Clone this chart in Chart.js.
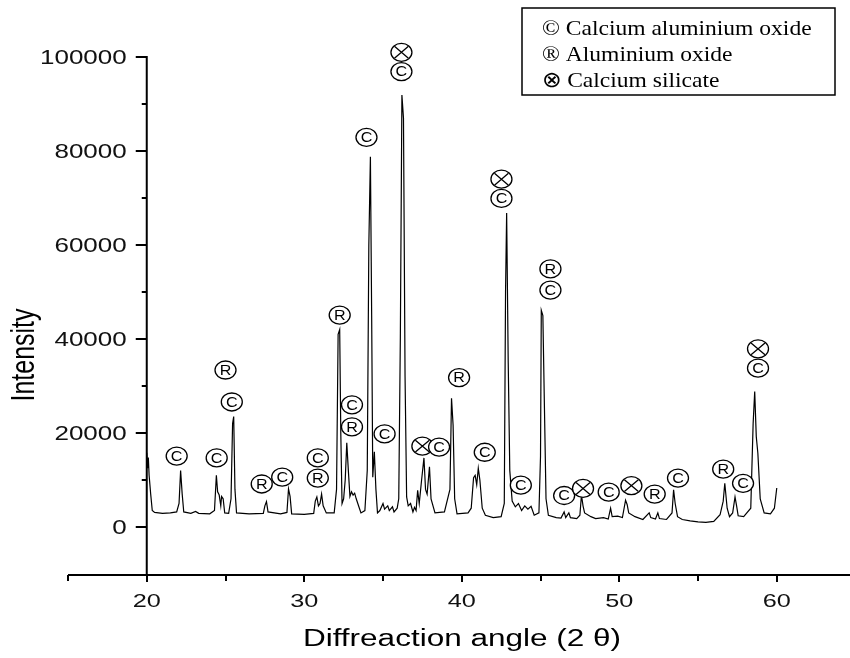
<!DOCTYPE html>
<html lang="en">

<head>
    <meta charset="UTF-8">
    <title>XRD pattern</title>
    <script src="https://cdn.jsdelivr.net/npm/chart.js"></script>
    <style>
        body { margin: 0; background: #fff; overflow: hidden; }
    </style>
</head>

<body>
    <canvas id="xrdChart" width="850" height="658"></canvas>
    <script>
        // diffraction angle (2 theta) and measured intensity
        const angles = [
            20.00, 20.05, 20.10, 20.15, 20.25, 20.35, 20.5, 21.0, 21.5, 21.9, 22.05, 22.15, 22.25, 22.35,
            22.8, 23.1, 23.3, 24.0, 24.3, 24.42, 24.5, 24.6, 24.7, 24.75, 24.85, 24.95, 25.2, 25.35,
            25.45, 25.52, 25.6, 25.7, 26.5, 27.4, 27.5, 27.6, 27.7, 28.5, 28.9, 29.0, 29.1, 29.2,
            30.0, 30.6, 30.7, 30.8, 30.9, 31.0, 31.1, 31.2, 31.4, 31.9, 32.05, 32.15, 32.25, 32.32,
            32.4, 32.5, 32.6, 32.7, 32.8, 32.9, 33.0, 33.1, 33.2, 33.3, 33.5, 33.6, 33.85, 34.0,
            34.1, 34.2, 34.28, 34.35, 34.45, 34.55, 34.65, 34.8, 35.0, 35.1, 35.3, 35.4, 35.6, 35.7,
            35.9, 36.0, 36.1, 36.2, 36.3, 36.4, 36.5, 36.6, 36.75, 36.9, 37.0, 37.1, 37.2, 37.3,
            37.45, 37.6, 37.7, 37.8, 37.95, 38.05, 38.3, 38.9, 39.25, 39.35, 39.45, 39.55, 39.7, 40.4,
            40.6, 40.75, 40.85, 40.95, 41.05, 41.15, 41.3, 41.5, 42.0, 42.5, 42.7, 42.78, 42.85, 42.95,
            43.05, 43.2, 43.4, 43.6, 43.8, 44.0, 44.2, 44.4, 44.6, 44.9, 45.0, 45.05, 45.15, 45.25,
            45.35, 45.5, 46.0, 46.3, 46.5, 46.6, 46.8, 46.9, 47.3, 47.5, 47.6, 47.7, 47.8, 48.2,
            48.5, 49.0, 49.3, 49.45, 49.55, 49.9, 50.2, 50.4, 50.5, 50.6, 51.0, 51.5, 51.9, 52.0,
            52.3, 52.45, 52.55, 53.0, 53.35, 53.45, 53.55, 53.7, 54.0, 54.5, 55.0, 55.5, 56.0, 56.4,
            56.6, 56.7, 56.85, 57.0, 57.2, 57.35, 57.45, 57.55, 57.9, 58.35, 58.5, 58.6, 58.7, 58.8,
            58.95, 59.2, 59.6, 59.85, 60.0
        ];
        const counts = [
            15800, 12500, 14800, 11000, 7000, 3500, 3100, 2900, 3000, 3200, 5000, 12000, 7000, 3200,
            2900, 3300, 2900, 2800, 3500, 11000, 7500, 6800, 4500, 6500, 6000, 3000, 2900, 6000,
            22000, 23500, 8000, 3000, 2800, 2900, 4500, 5400, 3200, 2800, 3100, 8100, 6500, 2800,
            2700, 2900, 5500, 6400, 4500, 5000, 7000, 4500, 3000, 3000, 8000, 41000, 42000, 20000,
            5000, 6000, 10000, 17900, 12000, 6500, 7500, 6800, 7200, 6000, 4000, 3000, 3500, 12000,
            60000, 78800, 45000, 10600, 16000, 8000, 3000, 3500, 5000, 3800, 4500, 3500, 4300, 3200,
            4000, 6000, 40000, 91900, 87000, 32000, 6400, 4500, 5000, 3200, 4200, 3500, 7800, 5000,
            10000, 14700, 8000, 7000, 12800, 6000, 3000, 3200, 8000, 27400, 21700, 6000, 2800, 3000,
            4000, 10500, 11000, 9000, 12500, 10000, 4000, 2500, 2000, 2200, 5000, 50000, 66800, 35000,
            12000, 5500, 4300, 5000, 3500, 4500, 3800, 4400, 2500, 3000, 15000, 46100, 45000, 25300,
            6000, 2500, 2000, 1900, 3200, 2000, 3000, 2000, 1800, 2500, 6800, 4500, 3000, 2200,
            1800, 2000, 1700, 4000, 2200, 2300, 2000, 5700, 4800, 3000, 2200, 1600, 3000, 2000,
            1700, 3000, 1800, 1600, 3000, 7900, 5000, 2200, 1600, 1300, 1100, 1000, 1200, 2600,
            5500, 9300, 4000, 2200, 3000, 6400, 4500, 2400, 2200, 4000, 22000, 28800, 19200, 15700,
            6000, 3000, 2800, 4000, 8300
        ];

        // phase markers: C = calcium aluminium oxide, R = aluminium oxide, X = calcium silicate
        const markAngles = [
            21.9, 24.44, 25.0, 25.4, 27.3, 28.6, 30.86, 30.86, 32.25, 33.03, 33.03, 33.95, 36.17, 36.17,
            35.1, 37.5, 38.56, 39.83, 41.46, 42.52, 42.52, 43.75, 45.63, 45.63, 46.5, 47.7, 49.33, 50.77,
            52.25, 53.73, 56.6, 57.86, 58.81, 58.81
        ];
        const markCounts = [
            15100, 14700, 33400, 26600, 9150, 10600, 14700, 10400, 45100, 26000, 21300, 82900, 101000, 96900,
            19800, 17200, 17000, 31800, 15900, 74000, 69900, 8900, 54900, 50400, 6700, 8200, 7400, 8800,
            7000, 10400, 12300, 9300, 37900, 33800
        ];
        const markSymbols = [
            'C', 'C', 'R', 'C', 'R', 'C', 'C', 'R', 'R', 'C', 'R', 'C', 'X', 'C',
            'C', 'X', 'C', 'R', 'C', 'X', 'C', 'C', 'R', 'C', 'C', 'X', 'C', 'X',
            'R', 'C', 'R', 'C', 'X', 'C'
        ];

        const xMajorTicks = [20, 30, 40, 50, 60];
        const xMinorTicks = [15, 25, 35, 45, 55, 65];
        const yMajorTicks = [0, 20000, 40000, 60000, 80000, 100000];
        const yMinorTicks = [10000, 30000, 50000, 70000, 90000];
        const legendLabels = ['\u00A9 Calcium aluminium oxide', '\u00AE Aluminium oxide', '\u2297 Calcium silicate'];

        const xTitle = 'Diffreaction angle (2 \u03B8)';
        const yTitle = 'Intensity';

        function stretchedText(ctx, text, x, y, sx, align) {
            ctx.save();
            ctx.translate(x, y);
            ctx.scale(sx, 1);
            ctx.textAlign = align;
            ctx.fillText(text, 0, 0);
            ctx.restore();
        }

        const axesPlugin = {
            id: 'originAxes',
            afterDatasetsDraw(chart) {
                const ctx = chart.ctx;
                const xs = chart.scales.x;
                const ys = chart.scales.y;
                const axisY = ys.getPixelForValue(-10000) + 1;
                const axisX = xs.getPixelForValue(20);
                ctx.save();
                ctx.strokeStyle = '#000';
                ctx.fillStyle = '#111';
                ctx.lineWidth = 2;

                // x axis
                ctx.beginPath();
                ctx.moveTo(xs.getPixelForValue(15), axisY);
                ctx.lineTo(chart.width, axisY);
                xMajorTicks.forEach(v => {
                    const px = Math.round(xs.getPixelForValue(v));
                    ctx.moveTo(px, axisY);
                    ctx.lineTo(px, axisY + 7);
                });
                xMinorTicks.forEach(v => {
                    const px = Math.round(xs.getPixelForValue(v));
                    ctx.moveTo(px, axisY);
                    ctx.lineTo(px, axisY + 6);
                });
                // y axis
                ctx.moveTo(axisX, axisY);
                ctx.lineTo(axisX, ys.getPixelForValue(100000) - 1);
                yMajorTicks.forEach(v => {
                    const py = Math.round(ys.getPixelForValue(v));
                    ctx.moveTo(axisX, py);
                    ctx.lineTo(axisX - 11, py);
                });
                yMinorTicks.forEach(v => {
                    const py = Math.round(ys.getPixelForValue(v));
                    ctx.moveTo(axisX, py);
                    ctx.lineTo(axisX - 5, py);
                });
                ctx.stroke();

                ctx.font = '19px "Liberation Sans", Arial, sans-serif';
                ctx.textBaseline = 'middle';
                xMajorTicks.forEach(v => {
                    stretchedText(ctx, String(v), xs.getPixelForValue(v), axisY + 27, 1.33, 'center');
                });
                ctx.font = '20px "Liberation Sans", Arial, sans-serif';
                yMajorTicks.forEach(v => {
                    stretchedText(ctx, String(v), axisX - 20, ys.getPixelForValue(v) + 1, 1.3, 'right');
                });

                // axis titles
                ctx.fillStyle = '#000';
                ctx.font = '23px "Liberation Sans", Arial, sans-serif';
                stretchedText(ctx, xTitle, 462, 640, 1.37, 'center');
                ctx.save();
                ctx.translate(25, 355);
                ctx.scale(1.3, 1);
                ctx.rotate(-Math.PI / 2);
                ctx.font = '25px "Liberation Sans", Arial, sans-serif';
                ctx.textAlign = 'center';
                ctx.fillText(yTitle, 0, 0);
                ctx.restore();

                // phase markers
                ctx.lineWidth = 1.3;
                ctx.font = '14px "Liberation Sans", Arial, sans-serif';
                markAngles.forEach((a, i) => {
                    const cx = xs.getPixelForValue(a);
                    const cy = ys.getPixelForValue(markCounts[i]);
                    ctx.beginPath();
                    ctx.ellipse(cx, cy, 10.5, 9, 0, 0, Math.PI * 2);
                    ctx.fillStyle = '#fff';
                    ctx.fill();
                    ctx.stroke();
                    ctx.fillStyle = '#000';
                    if (markSymbols[i] === 'X') {
                        const d = 7;
                        ctx.beginPath();
                        ctx.moveTo(cx - d, cy - d * 0.85);
                        ctx.lineTo(cx + d, cy + d * 0.85);
                        ctx.moveTo(cx + d, cy - d * 0.85);
                        ctx.lineTo(cx - d, cy + d * 0.85);
                        ctx.stroke();
                    } else {
                        stretchedText(ctx, markSymbols[i], cx, cy + 1, 1.15, 'center');
                    }
                });

                // legend box
                ctx.lineWidth = 1.5;
                ctx.strokeRect(522, 8, 313, 87);
                ctx.font = '22px "Liberation Serif", "Times New Roman", serif';
                ctx.textBaseline = 'middle';
                legendLabels.forEach((label, i) => {
                    stretchedText(ctx, label, 542, 29 + i * 26, 1.07, 'left');
                });
                ctx.restore();
            }
        };

        function renderChart() {
            const ctx = document.getElementById('xrdChart').getContext('2d');
            new Chart(ctx, {
                type: 'line',
                data: {
                    datasets: [{
                        label: 'XRD',
                        data: angles.map((a, i) => ({ x: a, y: counts[i] })),
                        borderColor: '#000',
                        borderWidth: 1.2,
                        pointRadius: 0,
                        tension: 0,
                        fill: false
                    }]
                },
                options: {
                    responsive: false,
                    animation: false,
                    layout: { padding: { left: 68, right: 0, top: 10, bottom: 84 } },
                    plugins: { legend: { display: false }, tooltip: { enabled: false } },
                    scales: {
                        x: { type: 'linear', min: 15, max: 64.65, display: false },
                        y: { min: -10000, max: 110000, display: false }
                    }
                },
                plugins: [axesPlugin]
            });
        }

        document.addEventListener('DOMContentLoaded', renderChart);
    </script>
</body>

</html>
